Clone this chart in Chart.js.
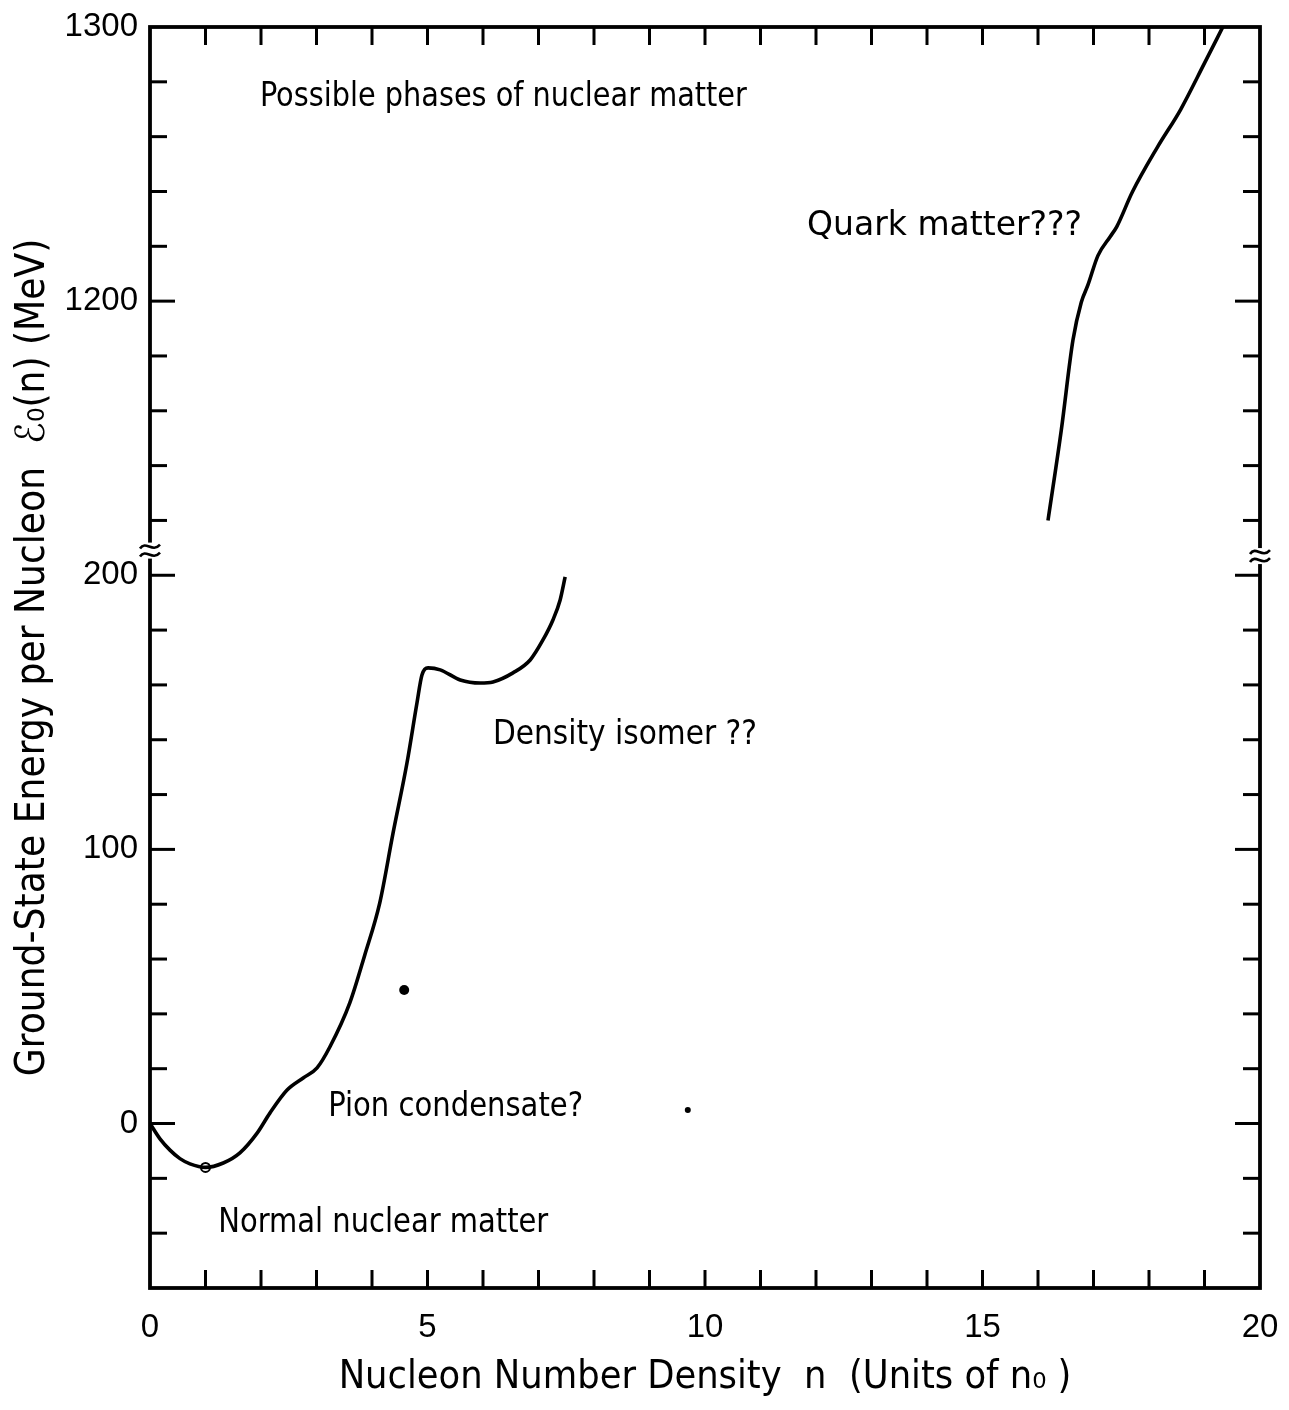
<!DOCTYPE html>
<html>
<head>
<meta charset="utf-8">
<script src="https://cdn.jsdelivr.net/npm/chart.js@4.4.1/dist/chart.umd.min.js"></script>
<style>
html,body{margin:0;padding:0;background:#fff;}
#wrap{width:1289px;height:1410px;position:relative;}
</style>
</head>
<body>
<div id="wrap"><canvas id="c" width="1289" height="1410"></canvas></div>
<script>
// ---------------- data ----------------
// Normal nuclear matter / pion condensate / density isomer branch
const NUCLEAR_N = [0, 0.18, 0.36, 0.54, 0.72, 1.0, 1.32, 1.62, 1.93, 2.16, 2.47, 2.76, 3.01, 3.24, 3.6, 3.87, 4.14, 4.38, 4.63, 4.81, 4.9, 5.01, 5.23, 5.59, 5.95, 6.18, 6.54, 6.85, 7.08, 7.26, 7.39, 7.48];
const NUCLEAR_E = [0, -5.6, -9.7, -12.8, -14.7, -16, -14.4, -10.7, -3.5, 3.8, 12.2, 16.6, 20.3, 27.9, 44.0, 61.5, 80.5, 106, 131.5, 153.4, 163.6, 166.2, 165.5, 161.8, 160.7, 161.1, 164.4, 169.1, 176.4, 183.7, 191, 199.4];
// Quark matter branch (real MeV values, above the axis break)
const QUARK_N = [16.18, 16.42, 16.63, 16.78, 16.9, 17.08, 17.3, 17.42, 17.7, 18.15, 18.57, 19.0, 19.33];
const QUARK_E = [1120, 1153, 1185.8, 1199.6, 1205.9, 1216.6, 1223.5, 1227.2, 1239.8, 1256.1, 1269.9, 1286.8, 1300];
// Saturation point of normal nuclear matter (open circle)
const SATURATION_N = [1.0];
const SATURATION_E = [-16];
// Stray specks present in the scanned figure
const SPECK_N = [4.58, 9.69];
const SPECK_E = [48.7, 4.9];
// Tick labels
const X_TICK_LABELS = [0, 5, 10, 15, 20];
const Y_TICK_LABELS = [0, 100, 200, 1200, 1300];
// Annotations
const NOTE_TEXT = ["Possible phases of nuclear matter", "Quark matter???", "Density isomer ??", "Pion condensate?", "Normal nuclear matter"];
const NOTE_N = [1.98, 11.84, 6.18, 3.21, 1.23];
const NOTE_E = [1274.5, 1227.5, 141.7, 6.0, -36.3];

// ---------------- broken axis mapping ----------------
const BREAK_SHIFT = 900;      // values above the break are shown 900 MeV lower
const BREAK_AT = 1000;
const toDisplay = v => (v > BREAK_AT ? v - BREAK_SHIFT : v);
const fromDisplay = v => (v > 205 ? v + BREAK_SHIFT : v);

// ---------------- fonts ----------------
const mctx = document.createElement('canvas').getContext('2d');
function hasFont(name) {
  const s = 'abcdefghijklmnopqrstuvwxyzABCDEFGH0123456789';
  for (const base of ['monospace', 'serif']) {
    mctx.font = '40px ' + base; const a = mctx.measureText(s).width;
    mctx.font = '40px "' + name + '", ' + base; const b = mctx.measureText(s).width;
    if (Math.abs(a - b) > 0.5) return true;
  }
  return false;
}
const FAMILY_CANDIDATES = ['Liberation Sans Narrow', 'Arial Narrow', 'DejaVu Sans Condensed', 'Roboto Condensed', 'Liberation Sans'];
let TEXT_FAMILY = '"Liberation Sans", sans-serif';
for (const f of FAMILY_CANDIDATES) { if (hasFont(f)) { TEXT_FAMILY = '"' + f + '", "Liberation Sans", sans-serif'; break; } }
const NUM_FAMILY = '"Liberation Sans", "DejaVu Sans", sans-serif';

function fitSize(text, family, target) {
  mctx.font = '100px ' + family;
  return 100 * target / mctx.measureText(text).width;
}
const Y_TITLE = 'Ground-State Energy per Nucleon  \u2130\u2080(n) (MeV)';
const X_TITLE = 'Nucleon Number Density  n  (Units of n\u2080 )';
const yTitleSize = Math.min(46, fitSize(Y_TITLE, TEXT_FAMILY, 838));
const xTitleSize = Math.min(46, fitSize(X_TITLE, TEXT_FAMILY, 733));
const NOTE_WIDTHS = [487, 275, 264, 255, 330];

// ---------------- plugins ----------------
const framePlugin = {
  id: 'frame',
  beforeDraw(chart) {
    const {ctx, width, height} = chart;
    ctx.save(); ctx.fillStyle = '#fff'; ctx.fillRect(0, 0, width, height); ctx.restore();
  },
  afterDraw(chart) {
    const {ctx, chartArea: a, scales: {x, y}} = chart;
    ctx.save();
    ctx.strokeStyle = '#000';
    ctx.lineCap = 'butt';
    const line = (x1, y1, x2, y2) => { ctx.beginPath(); ctx.moveTo(x1, y1); ctx.lineTo(x2, y2); ctx.stroke(); };
    // inward ticks
    ctx.lineWidth = 3;
    y.ticks.forEach(t => {
      const v = t.value;
      if (v <= y.min || v >= y.max) return;
      const p = y.getPixelForValue(v);
      const len = (v % 100 === 0) ? 25 : 17;
      line(a.left, p, a.left + len, p);
      line(a.right, p, a.right - len, p);
    });
    x.ticks.forEach(t => {
      const v = t.value;
      if (v <= x.min || v >= x.max) return;
      const p = x.getPixelForValue(v);
      line(p, a.bottom, p, a.bottom - 18);
      line(p, a.top, p, a.top + 18);
    });
    // frame
    ctx.lineWidth = 3.8;
    ctx.strokeRect(a.left, a.top, a.right - a.left, a.bottom - a.top);
    // axis break marks
    const drawBreak = (cx, cy) => {
      ctx.fillStyle = '#fff';
      ctx.fillRect(cx - 4, cy - 8, 8, 16);
      ctx.lineWidth = 2.6;
      for (const off of [-4, 4]) {
        ctx.beginPath();
        ctx.moveTo(cx - 10, cy + off + 2);
        ctx.bezierCurveTo(cx - 4, cy + off - 7, cx + 2, cy + off + 7, cx + 10, cy + off - 2);
        ctx.stroke();
      }
    };
    drawBreak(a.left, y.getPixelForValue(209));
    drawBreak(a.right, y.getPixelForValue(207));
    // annotations
    ctx.fillStyle = '#000';
    ctx.textBaseline = 'middle';
    ctx.textAlign = 'left';
    ctx.font = '34px ' + TEXT_FAMILY;
    NOTE_TEXT.forEach((t, i) => {
      const px = x.getPixelForValue(NOTE_N[i]);
      const py = y.getPixelForValue(toDisplay(NOTE_E[i]));
      const w = ctx.measureText(t).width;
      ctx.save();
      ctx.translate(px, py);
      ctx.scale(NOTE_WIDTHS[i] / w, 1);
      ctx.fillText(t, 0, 0);
      ctx.restore();
    });
    ctx.restore();
  }
};

// ---------------- chart ----------------
const toPoints = (xs, ys) => xs.map((v, i) => ({x: v, y: toDisplay(ys[i])}));

new Chart(document.getElementById('c'), {
  type: 'scatter',
  data: {
    datasets: [
      {
        label: 'Nuclear matter',
        data: toPoints(NUCLEAR_N, NUCLEAR_E),
        showLine: true,
        borderColor: '#000',
        borderWidth: 3.6,
        pointRadius: 0,
        cubicInterpolationMode: 'monotone',
        fill: false
      },
      {
        label: 'Quark matter',
        data: toPoints(QUARK_N, QUARK_E),
        showLine: true,
        borderColor: '#000',
        borderWidth: 3.6,
        pointRadius: 0,
        cubicInterpolationMode: 'monotone',
        fill: false
      },
      {
        label: 'Saturation point',
        data: toPoints(SATURATION_N, SATURATION_E),
        showLine: false,
        pointRadius: 4.5,
        pointBackgroundColor: '#fff',
        pointBorderColor: '#000',
        pointBorderWidth: 2
      },
      {
        label: 'Specks',
        data: toPoints(SPECK_N, SPECK_E),
        showLine: false,
        pointRadius: [5, 3],
        pointBackgroundColor: '#000',
        pointBorderColor: '#000',
        pointBorderWidth: 0
      }
    ]
  },
  options: {
    responsive: false,
    devicePixelRatio: 1,
    animation: false,
    events: [],
    layout: {padding: {top: 27, right: 29, left: 0, bottom: 0}},
    plugins: {legend: {display: false}, tooltip: {enabled: false}},
    scales: {
      x: {
        type: 'linear',
        min: 0, max: 20,
        grid: {display: false, drawTicks: false},
        border: {display: false},
        ticks: {
          stepSize: 1,
          autoSkip: false,
          maxRotation: 0,
          padding: 20,
          color: '#000',
          font: {family: NUM_FAMILY, size: 33},
          callback: v => (X_TICK_LABELS.includes(v) ? String(v) : '')
        },
        title: {
          display: true,
          text: X_TITLE,
          color: '#000',
          font: {family: TEXT_FAMILY, size: xTitleSize, lineHeight: 1},
          padding: {top: 0, bottom: Math.max(0, 32 - xTitleSize / 2)}
        },
        afterFit: s => { s.height = 122; s.paddingLeft = 0; s.paddingRight = 0; }
      },
      y: {
        type: 'linear',
        min: -60, max: 400,
        grid: {display: false, drawTicks: false},
        border: {display: false},
        ticks: {
          stepSize: 20,
          autoSkip: false,
          padding: 12,
          color: '#000',
          font: {family: NUM_FAMILY, size: 33},
          callback: v => {
            const real = fromDisplay(v);
            return Y_TICK_LABELS.includes(real) ? String(real) : '';
          }
        },
        title: {
          display: true,
          text: Y_TITLE,
          color: '#000',
          font: {family: TEXT_FAMILY, size: yTitleSize, lineHeight: 1},
          padding: {top: Math.max(0, 34 - yTitleSize / 2), bottom: 0}
        },
        afterFit: s => { s.width = 150; s.paddingTop = 0; s.paddingBottom = 0; }
      }
    }
  },
  plugins: [framePlugin]
});
</script>
</body>
</html>
